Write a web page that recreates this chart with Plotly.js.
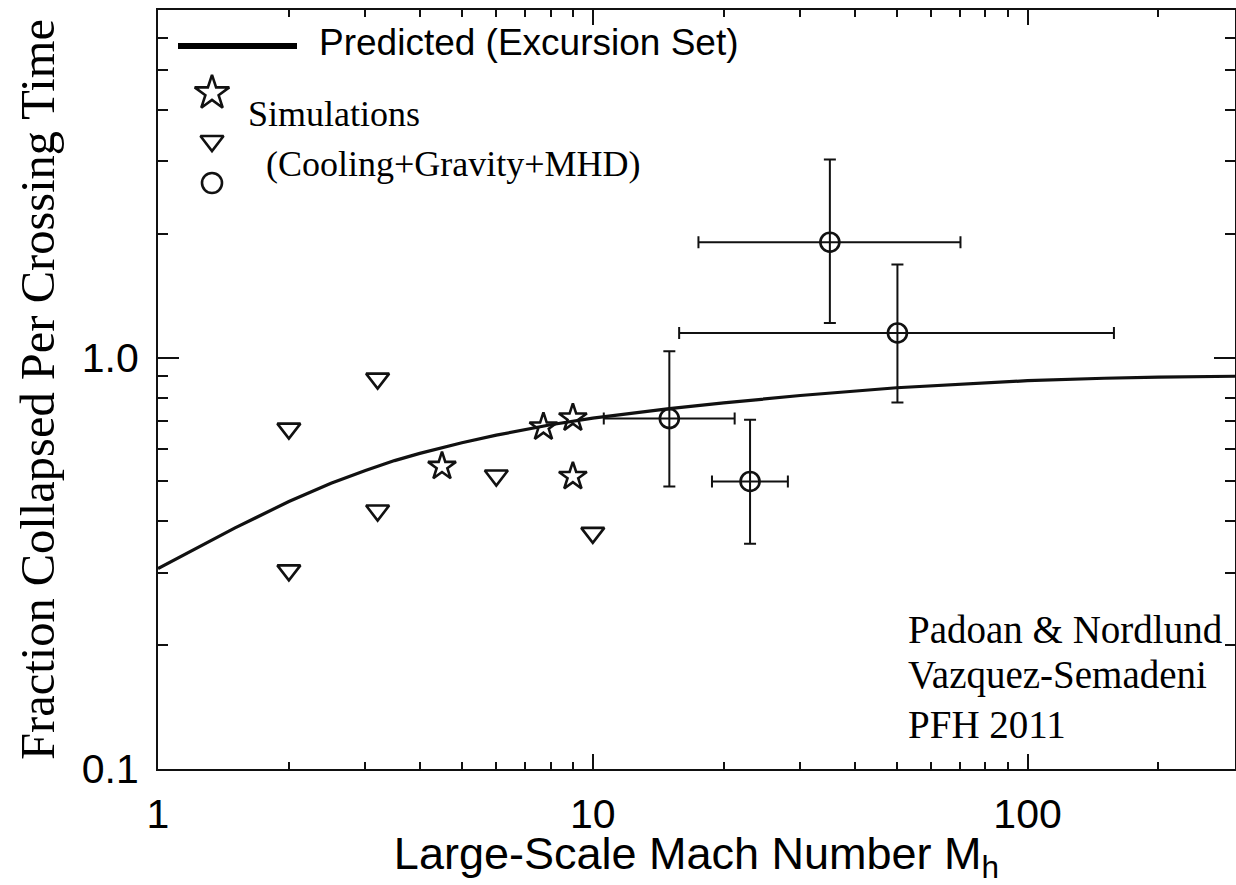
<!DOCTYPE html>
<html>
<head>
<meta charset="utf-8">
<script src="https://cdn.plot.ly/plotly-3.0.1.min.js"></script>
<style>
html,body{margin:0;padding:0;background:#fff;}
#chart{width:1236px;height:885px;}
</style>
</head>
<body>
<div id="chart"></div>
<script>
// ---- data ----
const curveX = [1, 1.25, 1.5, 2, 2.5, 3, 3.5, 4, 4.5, 5, 6, 7, 8, 10, 12, 15, 20, 30, 50, 70, 100, 150, 200, 300];
const curveY = [0.307, 0.348, 0.385, 0.447, 0.495, 0.532, 0.562, 0.585, 0.605, 0.621, 0.648, 0.670, 0.687, 0.713, 0.731, 0.752, 0.776, 0.809, 0.845, 0.863, 0.879, 0.891, 0.897, 0.901];

const starX = [4.5, 7.7, 9.0, 9.0];
const starY = [0.544, 0.678, 0.713, 0.514];

const triX = [2.0, 2.0, 3.2, 3.2, 6.0, 10.0];
const triY = [0.672, 0.304, 0.889, 0.425, 0.517, 0.375];

const circX = [15.0, 23.0, 35.1, 50.2];
const circY = [0.711, 0.500, 1.908, 1.148];
const circYHi = [1.036, 0.706, 3.03, 1.684];
const circYLo = [0.486, 0.353, 1.214, 0.778];
const circXLo = [10.6, 18.8, 17.5, 15.8];
const circXHi = [21.2, 28.1, 70.1, 158];

const xTickVals = [1, 10, 100];
const xTickText = ['1', '10', '100'];
const yTickVals = [0.1, 1];
const yTickText = ['0.1', '1.0'];
const xMinorVals = [2,3,4,5,6,7,8,9,20,30,40,50,60,70,80,90,200];
const yMinorVals = [0.2,0.3,0.4,0.5,0.6,0.7,0.8,0.9,2,3,4,5,6,7];

const legendLabel = 'Predicted (Excursion Set)';
const simLabel1 = 'Simulations';
const simLabel2 = '(Cooling+Gravity+MHD)';
const creditLines = ['Padoan &amp; Nordlund', 'Vazquez-Semadeni', 'PFH 2011'];

// ---- layout helpers ----
const W = 1236, H = 885;
const M = {l:158, r:1, t:10, b:116};
const PW = W - M.l - M.r, PH = H - M.t - M.b;
const px = x => (x - M.l) / PW;
const py = y => (H - M.b - y) / PH;

const SANS = 'Liberation Sans, Arial, Helvetica, sans-serif';
const SERIF = 'Liberation Serif, Times New Roman, Times, serif';
const INK = '#111';

const plusArr = (v, hi) => v.map((c, i) => hi[i] - c);
const minusArr = (v, lo) => v.map((c, i) => c - lo[i]);

const traces = [
  {
    x: curveX, y: curveY, type: 'scatter', mode: 'lines',
    line: {color: INK, width: 3.2, shape: 'linear'},
    hoverinfo: 'skip'
  },
  {
    x: triX, y: triY, type: 'scatter', mode: 'markers',
    marker: {symbol: 'triangle-down-open', size: 20, color: INK, line: {color: INK, width: 2.6}}
  },
  {
    x: starX, y: starY, type: 'scatter', mode: 'markers',
    marker: {symbol: 'star-open', size: 21, color: INK, line: {color: INK, width: 2.6}}
  },
  {
    x: circX, y: circY, type: 'scatter', mode: 'markers',
    marker: {symbol: 'circle-open', size: 19, color: INK, line: {color: INK, width: 2.6}},
    error_y: {type: 'data', symmetric: false, array: plusArr(circY, circYHi), arrayminus: minusArr(circY, circYLo),
              color: INK, thickness: 2, width: 6},
    error_x: {type: 'data', symmetric: false, array: plusArr(circX, circXHi), arrayminus: minusArr(circX, circXLo),
              color: INK, thickness: 2, width: 6}
  },
  // legend key symbols (on an overlay axis spanning the plot area, 0..1)
  {
    x: [px(212)], y: [py(93)], xaxis: 'x2', yaxis: 'y2', type: 'scatter', mode: 'markers',
    marker: {symbol: 'star-open', size: 26, color: INK, line: {color: INK, width: 2.6}}, hoverinfo: 'skip'
  },
  {
    x: [px(212)], y: [py(141)], xaxis: 'x2', yaxis: 'y2', type: 'scatter', mode: 'markers',
    marker: {symbol: 'triangle-down-open', size: 20, color: INK, line: {color: INK, width: 2.6}}, hoverinfo: 'skip'
  },
  {
    x: [px(212)], y: [py(183)], xaxis: 'x2', yaxis: 'y2', type: 'scatter', mode: 'markers',
    marker: {symbol: 'circle-open', size: 20, color: INK, line: {color: INK, width: 2.6}}, hoverinfo: 'skip'
  }
];

const axisCommon = {
  type: 'log', showgrid: false, zeroline: false,
  showline: true, linecolor: INK, linewidth: 2, mirror: 'ticks',
  ticks: 'inside', tickwidth: 2, tickcolor: INK,
  tickfont: {family: SANS, size: 41, color: '#000'}
};

const annotations = [
  {text: legendLabel, x: px(317), y: py(42), xref: 'paper', yref: 'paper', xanchor: 'left', yanchor: 'middle',
   showarrow: false, font: {family: SANS, size: 37, color: '#000'}},
  {text: simLabel1, x: px(246), y: py(114), xref: 'paper', yref: 'paper', xanchor: 'left', yanchor: 'middle',
   showarrow: false, font: {family: SERIF, size: 36, color: '#000'}},
  {text: simLabel2, x: px(264), y: py(164), xref: 'paper', yref: 'paper', xanchor: 'left', yanchor: 'middle',
   showarrow: false, font: {family: SERIF, size: 36, color: '#000'}}
];
const creditY = [629, 675, 724];
creditLines.forEach((t, i) => annotations.push({
  text: t, x: px(906), y: py(creditY[i]), xref: 'paper', yref: 'paper', xanchor: 'left', yanchor: 'middle',
  showarrow: false, font: {family: SERIF, size: 39, color: '#000'}
}));

const layout = {
  width: W, height: H, margin: M,
  paper_bgcolor: '#fff', plot_bgcolor: '#fff',
  showlegend: false,
  xaxis: Object.assign({}, axisCommon, {
    range: [0, Math.log10(300)],
    tickmode: 'array', tickvals: xTickVals, ticktext: xTickText,
    ticklen: 15, ticklabelstandoff: 8,
    minor: {tickmode: 'array', tickvals: xMinorVals, ticks: 'inside', ticklen: 7, tickwidth: 2, tickcolor: INK, showgrid: false},
    title: {text: 'Large-Scale Mach Number M<sub>h</sub>', font: {family: SANS, size: 45, color: '#000'}, standoff: 6}
  }),
  yaxis: Object.assign({}, axisCommon, {
    range: [-1, Math.log10(7)],
    tickmode: 'array', tickvals: yTickVals, ticktext: yTickText,
    ticklen: 21, ticklabelstandoff: 9,
    minor: {tickmode: 'array', tickvals: yMinorVals, ticks: 'inside', ticklen: 10, tickwidth: 2, tickcolor: INK, showgrid: false},
    title: {text: 'Fraction Collapsed Per Crossing Time', font: {family: SERIF, size: 48.5, color: '#000'}, standoff: 12}
  }),
  xaxis2: {overlaying: 'x', range: [0, 1], visible: false, fixedrange: true},
  yaxis2: {overlaying: 'y', range: [0, 1], visible: false, fixedrange: true},
  shapes: [
    {type: 'line', xref: 'paper', yref: 'paper', x0: px(178), x1: px(297), y0: py(46), y1: py(46),
     line: {color: '#000', width: 6}}
  ],
  annotations: annotations
};

Plotly.newPlot('chart', traces, layout, {displayModeBar: false, staticPlot: true});
</script>
</body>
</html>
